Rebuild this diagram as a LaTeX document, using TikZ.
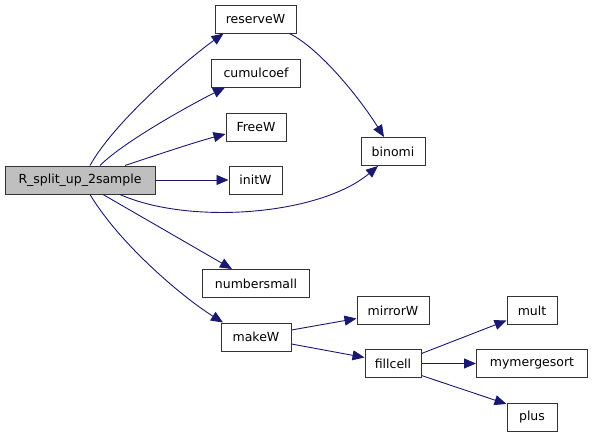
\documentclass[tikz,border=0pt]{standalone}
\usepackage{fontspec}
\setmainfont{DejaVu Sans}
\usepackage{tikz}
\usepackage{xcolor}
\usetikzlibrary{arrows.meta,calc}
\definecolor{edgeblue}{RGB}{25,25,112}
\definecolor{rootgray}{RGB}{191,191,191}
\tikzset{
	fnbox/.style={draw=black!80,fill=white,line width=1pt,minimum height=28,inner sep=2pt},
	call/.style={draw=edgeblue,line width=0.9pt,-{Triangle[length=12pt,width=10pt]}}
}
\def\fnbox#1#2#3#4{
	\node[fnbox,minimum width=#3] (#1) at (#2) {#4};}

\begin{document}
\begin{tikzpicture}[x=1pt,y=-1pt,font=\fontsize{12.5}{15}\selectfont]
	\useasboundingbox (0,0) rectangle (592,437);
	%root function
	\node[fnbox,fill=rootgray,minimum width=150] (root) at (80,180) {R\_split\_up\_2sample};
	%first column
	\fnbox{reserveW}{255.5,19}{81}{reserveW};
	\fnbox{cumulcoef}{256,73}{89}{cumulcoef};
	\fnbox{FreeW}{256,127}{60}{FreeW};
	\fnbox{initW}{255.5,180}{53}{initW};
	\fnbox{numbersmall}{256,283.5}{107}{numbersmall};
	\fnbox{makeW}{256,337}{70}{makeW};
	%second column
	\fnbox{binomi}{393,151.5}{64}{binomi};
	\fnbox{mirrorW}{393,310.5}{72}{mirrorW};
	\fnbox{fillcell}{393,363.5}{56}{fillcell};
	%third column
	\fnbox{mult}{532,310.5}{50}{mult};
	\fnbox{mymergesort}{532,363.5}{111}{mymergesort};
	\fnbox{plus}{532,417}{50}{plus};
	
	%calls from the root
	\draw[call] ($(root.north)+(10,0)$) .. controls +(25,-45) and +(-35,25) .. ($(reserveW.south)+(-32,0)$);
	\draw[call] ($(root.north)+(20,0)$) .. controls +(25,-25) and +(-30,15) .. ($(cumulcoef.south)+(-31,0)$);
	\draw[call] ($(root.north)+(45,0)$) .. controls +(30,-10) and +(-30,8) .. ($(FreeW.west)+(0,7)$);
	\draw[call] (root.east) -- (initW.west);
	\draw[call] ($(root.south)+(40,0)$) .. controls +(70,31) and +(-58,49) .. ($(binomi.south)+(-15,0)$);
	\draw[call] ($(root.south)+(23,0)$) -- ($(numbersmall.north)+(-24,0)$);
	\draw[call] ($(root.south)+(10,0)$) .. controls +(30,50) and +(-40,-25) .. ($(makeW.north)+(-33,0)$);
	%further calls
	\draw[call] ($(reserveW.south)+(34,0)$) .. controls +(30,15) and +(-25,-40) .. ($(binomi.north)+(-9,0)$);
	\draw[call] ($(makeW.east)+(0,-7)$) -- ($(mirrorW.west)+(0,8)$);
	\draw[call] ($(makeW.east)+(0,7)$) -- ($(fillcell.west)+(0,-6)$);
	\draw[call] ($(fillcell.east)+(0,-10)$) -- ($(mult.west)+(0,10)$);
	\draw[call] (fillcell.east) -- (mymergesort.west);
	\draw[call] ($(fillcell.east)+(0,12)$) -- ($(plus.west)+(0,-13)$);
\end{tikzpicture}
\end{document}
